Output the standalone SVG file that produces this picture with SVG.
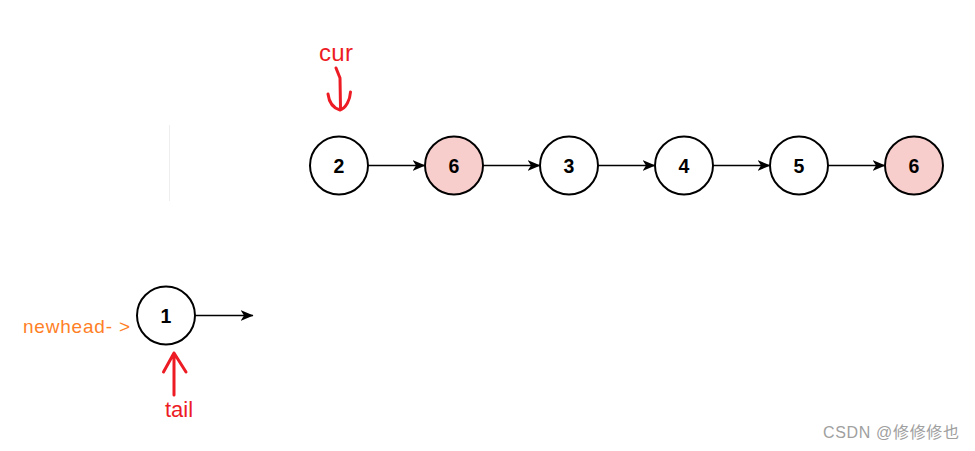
<svg xmlns="http://www.w3.org/2000/svg" width="975" height="451" viewBox="0 0 975 451">
<defs>
<style>
.node circle{stroke:#000;stroke-width:2}
.plain{fill:#fff}
.pink{fill:#f8cecc}
.node text{font-family:"Liberation Sans",Arial,sans-serif;font-weight:bold;font-size:19.5px;fill:#000;text-anchor:middle}
.edge{stroke:#000;stroke-width:1.5;fill:none;marker-end:url(#arr)}
.red{fill:#ed1c24;font-family:"Liberation Sans",Arial,sans-serif}
.hand{stroke:#ed1c24;stroke-width:3;fill:none;stroke-linecap:round;stroke-linejoin:round}
</style>
<marker id="arr" markerWidth="13" markerHeight="11" viewBox="0 0 13 11" refX="12.5" refY="5.5" orient="auto" markerUnits="userSpaceOnUse">
<path d="M0,0 L13,5.5 L0,11 L3.5,5.5 Z" fill="#000"/>
</marker>
</defs>
<rect width="975" height="451" fill="#fff"/>
<line x1="169.5" y1="125" x2="169.5" y2="201" stroke="#eeeeee" stroke-width="1"/>
<g id="connectors">
<line class="edge" x1="368" y1="165.5" x2="425" y2="165.5"/>
<line class="edge" x1="483" y1="165.5" x2="540" y2="165.5"/>
<line class="edge" x1="598" y1="165.5" x2="655" y2="165.5"/>
<line class="edge" x1="713" y1="165.5" x2="770" y2="165.5"/>
<line class="edge" x1="828" y1="165.5" x2="885" y2="165.5"/>
<line class="edge" x1="195" y1="315.5" x2="253" y2="315.5"/>
</g>
<g id="node-2" class="node"><circle class="plain" cx="339" cy="165.5" r="29"/><text x="339" y="172.5">2</text></g>
<g id="node-6a" class="node"><circle class="pink" cx="454" cy="165.5" r="29"/><text x="454" y="172.5">6</text></g>
<g id="node-3" class="node"><circle class="plain" cx="569" cy="165.5" r="29"/><text x="569" y="172.5">3</text></g>
<g id="node-4" class="node"><circle class="plain" cx="684" cy="165.5" r="29"/><text x="684" y="172.5">4</text></g>
<g id="node-5" class="node"><circle class="plain" cx="799" cy="165.5" r="29"/><text x="799" y="172.5">5</text></g>
<g id="node-6b" class="node"><circle class="pink" cx="914" cy="165.5" r="29"/><text x="914" y="172.5">6</text></g>
<g id="node-1" class="node"><circle class="plain" cx="166" cy="315.5" r="29"/><text x="166" y="322.5">1</text></g>
<g id="cur-label">
<text class="red" x="319" y="61" font-size="24" textLength="34">cur</text>
<path class="hand" d="M336,68 L340,78 L340.5,108"/>
<path class="hand" d="M328,94 C329,102 333,108 340,110 C346,108 350,100 350.5,92"/>
</g>
<g id="tail-label">
<path class="hand" d="M174,353 L174,395 M163.5,372 L174,353 L186,372"/>
<text class="red" x="165" y="417" font-size="22">tail</text>
</g>
<g id="newhead-label">
<text x="23" y="333" font-family="Liberation Sans,Arial,sans-serif" font-size="19" fill="#ff7f27" textLength="107">newhead- &gt;</text>
</g>
<text x="823" y="438" font-family="Liberation Sans,'Noto Sans CJK SC',sans-serif" font-size="16" fill="#a0a0a0" textLength="136">CSDN @修修修也</text>
</svg>
